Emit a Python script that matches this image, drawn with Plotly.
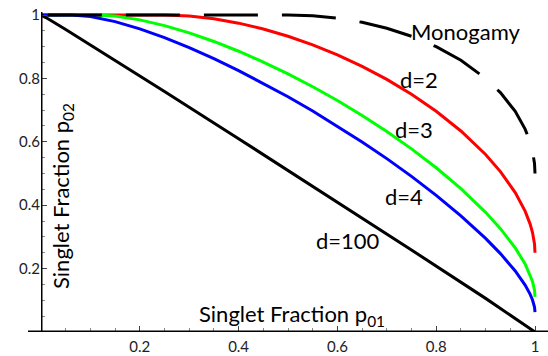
import plotly.graph_objects as go

# ---- data ----
x_d2 = [0, 0.25, 0.3, 0.35, 0.4, 0.45, 0.5, 0.55, 0.6, 0.65, 0.7, 0.75, 0.8, 0.85, 0.9, 0.93, 0.96, 0.98, 0.99, 0.995, 0.999, 1]
y_d2 = [1, 1, 0.9969, 0.9881, 0.9743, 0.9558, 0.9330, 0.9058, 0.8743, 0.8381, 0.7969, 0.75, 0.6964, 0.6342, 0.5598, 0.5060, 0.4397, 0.3813, 0.3412, 0.3136, 0.2779, 0.25]

x_d3 = [0, 0.1111, 0.15, 0.2, 0.25, 0.3, 0.35, 0.4, 0.45, 0.5, 0.55, 0.6, 0.65, 0.7, 0.75, 0.8, 0.85, 0.9, 0.93, 0.96, 0.98, 0.99, 0.995, 0.999, 1]
y_d3 = [1, 1, 0.9967, 0.9847, 0.9666, 0.9436, 0.9165, 0.8857, 0.8516, 0.8143, 0.7738, 0.7301, 0.6831, 0.6325, 0.5777, 0.5181, 0.4522, 0.3775, 0.3259, 0.2654, 0.2147, 0.1814, 0.1593, 0.1320, 0.1111]

x_d4 = [0, 0.0625, 0.1, 0.15, 0.2, 0.25, 0.3, 0.35, 0.4, 0.45, 0.5, 0.55, 0.6, 0.65, 0.7, 0.75, 0.8, 0.85, 0.9, 0.93, 0.96, 0.98, 0.99, 0.995, 0.999, 1]
y_d4 = [1, 1, 0.9952, 0.9791, 0.9562, 0.9284, 0.8969, 0.8622, 0.8247, 0.7846, 0.7421, 0.6971, 0.6497, 0.5997, 0.5469, 0.4909, 0.4311, 0.3666, 0.2952, 0.2473, 0.1924, 0.1478, 0.1194, 0.1010, 0.0787, 0.0625]

x_d100 = [0, 0.01, 0.05, 0.1, 0.25, 0.4, 0.5, 0.6, 0.75, 0.9, 0.99, 1]
y_d100 = [1, 0.9919, 0.9543, 0.9059, 0.7586, 0.6098, 0.51, 0.4098, 0.2587, 0.1061, 0.0121, 0.0001]

x_mono = [0.014, 0.5, 0.55, 0.6, 0.65, 0.7, 0.75, 0.8, 0.85, 0.9, 0.93, 0.96, 0.98, 0.99, 0.995, 0.999, 1]
y_mono = [1, 1, 0.9975, 0.9899, 0.9770, 0.9583, 0.9330, 0.9, 0.8571, 0.8, 0.7551, 0.6960, 0.64, 0.5995, 0.5705, 0.5316, 0.5]

x_ticks = [0.2, 0.4, 0.6, 0.8, 1]
x_ticktext = ["0.2", "0.4", "0.6", "0.8", "1"]
y_ticks = [0.2, 0.4, 0.6, 0.8, 1]
y_ticktext = ["0.2", "0.4", "0.6", "0.8", "1"]

curve_labels = ["Monogamy", "d=2", "d=3", "d=4", "d=100"]
label_x = [0.860, 0.765, 0.755, 0.735, 0.622]
label_y = [0.947, 0.797, 0.638, 0.428, 0.288]

FONT = "Lato"

fig = go.Figure()
fig.add_trace(go.Scatter(x=x_d2, y=y_d2, mode="lines", line=dict(color="#ff0000", width=3)))
fig.add_trace(go.Scatter(x=x_d3, y=y_d3, mode="lines", line=dict(color="#00ff00", width=3)))
fig.add_trace(go.Scatter(x=x_d4, y=y_d4, mode="lines", line=dict(color="#0000ff", width=3)))
fig.add_trace(go.Scatter(x=x_d100, y=y_d100, mode="lines", line=dict(color="#000000", width=3)))
fig.add_trace(go.Scatter(x=x_mono, y=y_mono, mode="lines",
                         line=dict(color="#000000", width=3, dash="54px,24px")))

for t, xx, yy in zip(curve_labels, label_x, label_y):
    fig.add_annotation(x=xx, y=yy, xref="x", yref="y", text=t, showarrow=False,
                       font=dict(family=FONT, size=22, color="black"),
                       xanchor="center", yanchor="middle")

# axis titles placed inside the frame
fig.add_annotation(x=0.508, y=0.055, xref="x", yref="y",
                   text="Singlet Fraction p<sub>01</sub>", showarrow=False,
                   font=dict(family=FONT, size=22, color="black"),
                   xanchor="center", yanchor="middle")
fig.add_annotation(x=0.0425, y=0.429, xref="x", yref="y",
                   text="Singlet Fraction p<sub>02</sub>", showarrow=False, textangle=-90,
                   font=dict(family=FONT, size=22, color="black"),
                   xanchor="center", yanchor="middle")

# axis lines (Mathematica style, crossing)
fig.add_shape(type="line", xref="paper", yref="y", x0=-13 / 507, x1=1, y0=0, y1=0,
              line=dict(color="black", width=3), layer="above")
fig.add_shape(type="line", xref="x", yref="paper", x0=0, x1=0, y0=0, y1=1,
              line=dict(color="black", width=3), layer="above")

fig.update_layout(
    width=548, height=356,
    margin=dict(l=41, r=0, t=12, b=24),
    paper_bgcolor="white", plot_bgcolor="white",
    showlegend=False,
    xaxis=dict(range=[0, 507 / 494], showgrid=False, zeroline=False, showline=False,
               tickmode="array", tickvals=x_ticks, ticktext=x_ticktext,
               ticks="inside", ticklen=6, tickwidth=1, tickcolor="#444",
               ticklabelstandoff=4,
               minor=dict(tickmode="linear", tick0=0, dtick=0.05, ticks="inside",
                          ticklen=4, tickwidth=1, tickcolor="#888", showgrid=False),
               tickfont=dict(family=FONT, size=15, color="#222")),
    yaxis=dict(range=[0, 320 / 317], showgrid=False, zeroline=False, showline=False,
               tickmode="array", tickvals=y_ticks, ticktext=y_ticktext,
               ticks="inside", ticklen=6, tickwidth=1, tickcolor="#444",
               minor=dict(tickmode="linear", tick0=0, dtick=0.05, ticks="inside",
                          ticklen=4, tickwidth=1, tickcolor="#888", showgrid=False),
               tickfont=dict(family=FONT, size=15, color="#222")),
)

fig.write_html("out.html",
               config={"displayModeBar": False, "staticPlot": True},
               post_script="document.body.style.margin='0';document.body.style.overflow='hidden';")
